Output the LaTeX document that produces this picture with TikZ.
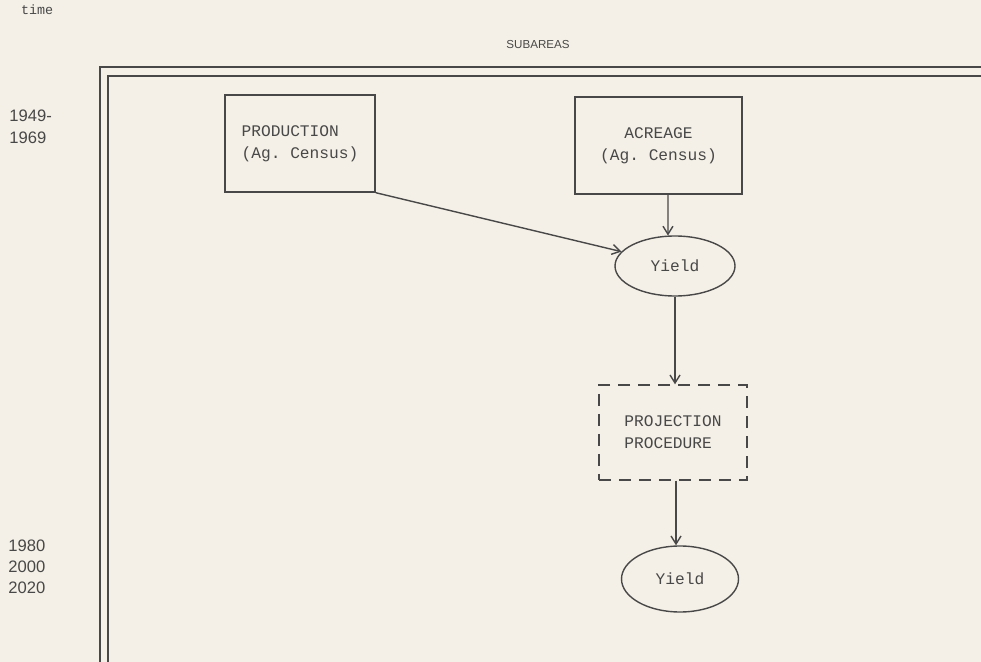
\documentclass[tikz,border=0pt]{standalone}
\usepackage{fontspec}
\setmonofont{Liberation Mono}
\setsansfont{Liberation Sans}
\usetikzlibrary{arrows.meta,shapes.geometric}
\definecolor{paper}{RGB}{244,240,231}
\definecolor{ink}{RGB}{72,72,72}
\tikzset{
  datbox/.style={draw=ink, line width=0.7pt, align=left},
  yieldnode/.style={draw=ink, line width=0.7pt, ellipse, inner sep=0pt},
  conn/.style={draw=ink, line width=0.7pt, -{Straight Barb[length=4pt,width=5pt]}},
  sidelbl/.style={font=\sffamily\fontsize{8.3}{10.8}\selectfont, text=ink, align=left, inner sep=0pt}
}
\begin{document}
\begin{tikzpicture}[x=0.5pt,y=-0.5pt,
    every node/.style={font=\ttfamily\fontsize{8.1}{11}\selectfont, text=ink}]
  \fill[paper] (0,0) rectangle (981,662);
  \useasboundingbox (0,0) rectangle (981,662);
  % time axis and frame
  \node[anchor=west, font=\ttfamily\fontsize{6.7}{7}\selectfont] (tlbl) at (14,10) {time};
  \node[font=\sffamily\fontsize{5.8}{7}\selectfont] (sublbl) at (538,45) {SUBAREAS};
  \draw[ink, line width=0.7pt] (100,662) -- (100,67) -- (981,67);
  \draw[ink, line width=0.7pt] (108,662) -- (108,76) -- (981,76);
  \node[sidelbl, anchor=north west] (d1) at (9,110) {1949-\\1969};
  \node[sidelbl, anchor=north west, font=\sffamily\fontsize{8.3}{10.5}\selectfont] (d2) at (8,540) {1980\\2000\\2020};
  % boxes
  \node[datbox, minimum width=75pt, minimum height=48.5pt] (prod) at (300,143.5) {PRODUCTION\\(Ag. Census)};
  \node[datbox, align=center, minimum width=83.5pt, minimum height=48.5pt] (acre) at (658.5,145.5) {ACREAGE\\(Ag. Census)};
  \node[yieldnode, minimum width=60pt, minimum height=30pt] (yield1) at (675,266) {Yield};
  \node[datbox, dash pattern=on 6pt off 4pt, minimum width=74pt, minimum height=47.5pt] (proj) at (673,432.5) {PROJECTION\\PROCEDURE};
  \node[yieldnode, minimum width=58.5pt, minimum height=33pt] (yield2) at (680,579) {Yield};
  % arrows
  \draw[conn] (prod.south east) -- (yield1.165);
  \draw[conn] ([xshift=4.75pt]acre.south) -- (yield1.103);
  \draw[conn] (yield1.south) -- (yield1.south |- proj.north);
  \draw[conn] ([xshift=1.5pt]proj.south) -- ([xshift=1.5pt]proj.south |- yield2.north);
\end{tikzpicture}
\end{document}
